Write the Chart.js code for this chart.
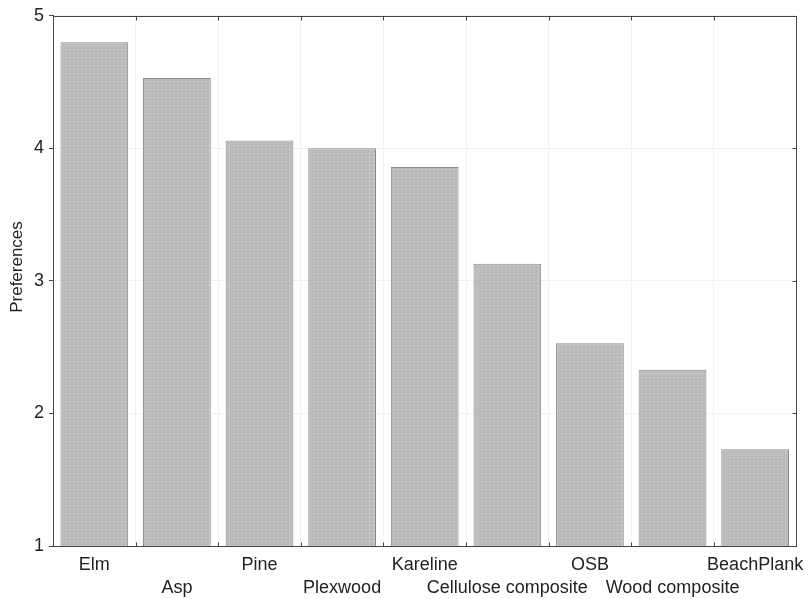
<!DOCTYPE html>
<html>
<head>
<meta charset="utf-8">
<script src="https://cdn.jsdelivr.net/npm/chart.js@4"></script>
<style>
html, body { margin: 0; padding: 0; background: #fff; }
#wrap { width: 812px; height: 599px; }
</style>
</head>
<body>
<div id="wrap"><canvas id="testchart"></canvas></div>
<script>
const woods = ['Elm', 'Asp', 'Pine', 'Plexwood', 'Kareline', 'Cellulose composite', 'OSB', 'Wood composite', 'BeachPlank'];
const preferences = [4.80, 4.53, 4.06, 4.00, 3.86, 3.13, 2.53, 2.33, 1.73];
const yTicks = [1, 2, 3, 4, 5];

// dotted grey fill like the scanned figure
function makePattern()
{
    let c = document.createElement('canvas');
    c.width = 4;
    c.height = 4;
    let g = c.getContext('2d');
    g.fillStyle = '#b9b9b9';
    g.fillRect(0, 0, 4, 4);
    g.fillStyle = '#e2e2e2';
    g.fillRect(1, 1, 1, 1);
    g.fillStyle = '#c8c8c8';
    g.fillRect(3, 3, 1, 1);
    return g.createPattern(c, 'repeat');
}

// box round the plot, inward ticks, and the y title
const frame = {
    id: 'frame',
    afterDraw(chart) {
        let a = chart.chartArea, ctx = chart.ctx;
        let l = Math.round(a.left) + 0.5, t = Math.round(a.top) + 0.5;
        let r = Math.round(a.right) + 0.5, b = Math.round(a.bottom) + 0.5;
        ctx.save();
        ctx.strokeStyle = '#444';
        ctx.lineWidth = 1;
        ctx.strokeRect(l, t, r - l, b - t);
        ctx.beginPath();
        let step = (a.right - a.left) / woods.length;
        for (let i = 1; i < woods.length; i++) {
            let x = Math.round(a.left + step * i) + 0.5;
            ctx.moveTo(x, b); ctx.lineTo(x, b - 4);
            ctx.moveTo(x, t); ctx.lineTo(x, t + 4);
        }
        let ys = chart.scales.y;
        yTicks.forEach(v => {
            let y = Math.round(ys.getPixelForValue(v)) + 0.5;
            ctx.moveTo(r, y); ctx.lineTo(r - 4, y);
        });
        ctx.stroke();
        ctx.translate(17, 267);
        ctx.rotate(-Math.PI / 2);
        ctx.fillStyle = '#222';
        ctx.font = '17px "Liberation Sans"';
        ctx.textAlign = 'center';
        ctx.textBaseline = 'middle';
        ctx.fillText('Preferences', 0, 0);
        ctx.restore();
    }
};

let currentchart = new Chart(document.getElementById('testchart'), {
    type: 'bar',
    data: {
        labels: woods.map((w, i) => i % 2 == 0 ? [w, ''] : ['', w]),
        datasets: [{
            label: 'Preferences',
            data: preferences,
            backgroundColor: makePattern(),
            borderColor: '#8a8a8a',
            borderWidth: 1,
            borderSkipped: false,
            categoryPercentage: 1,
            barPercentage: 0.82
        }]
    },
    options: {
        maintainAspectRatio: false,
        animation: false,
        events: [],
        layout: { padding: { top: 10, right: 15, left: 0, bottom: 0 } },
        plugins: { legend: { display: false }, tooltip: { enabled: false } },
        scales: {
            x: {
                offset: true,
                grid: { offset: true, color: '#f2f2f2', drawTicks: false },
                border: { color: '#444' },
                ticks: { color: '#222', font: { family: 'Liberation Sans', size: 18, lineHeight: 1.25 }, maxRotation: 0, autoSkip: false, padding: 8 },
                afterFit(scale) { scale.height = 53; }
            },
            y: {
                min: 1,
                max: 5,
                afterBuildTicks(scale) { scale.ticks = yTicks.map(v => ({ value: v })); },
                grid: { color: '#f2f2f2', tickColor: '#444', tickLength: 4 },
                border: { color: '#444' },
                ticks: { color: '#222', font: { family: 'Liberation Sans', size: 18 }, padding: 5 },
                afterFit(scale) { scale.width = 53; }
            }
        }
    },
    plugins: [frame]
});
</script>
</body>
</html>
